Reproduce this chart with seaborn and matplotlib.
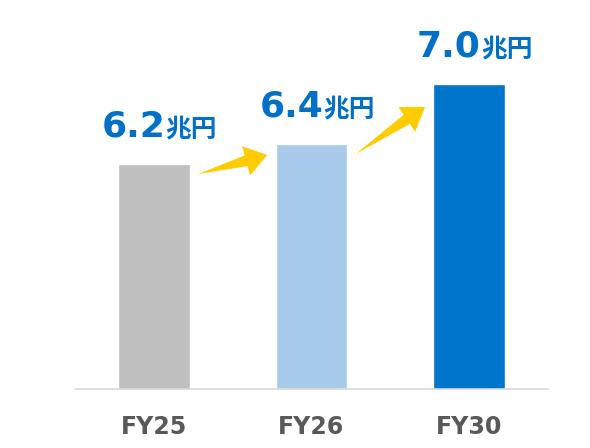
"""
Sales outlook bar chart - FY25 / FY26 / FY30
"""

import numpy as np
import pandas as pd
import matplotlib
matplotlib.use("Agg")
import matplotlib.pyplot as plt
from matplotlib.patches import Polygon
from matplotlib.offsetbox import TextArea, HPacker, AnnotationBbox
import seaborn as sns

# Data
years = ["FY25", "FY26", "FY30"]
sales = [6.2, 6.4, 7.0]
unit = "兆円"
bar_colors = ["#BFBFBF", "#A9CBEB", "#0075CC"]

LABEL_BLUE = "#0070C8"
ARROW_YELLOW = "#FFCC00"
TICK_GRAY = "#595959"


def add_arrow(ax, tail, tip):
    """Tapered yellow arrow, built in pixel space then mapped back to data"""
    p0 = ax.transData.transform(tail)
    p1 = ax.transData.transform(tip)
    d = p1 - p0
    length = np.hypot(*d)
    u = d / length
    n = np.array([-u[1], u[0]])
    head_len, head_w, shaft_w = 22, 15, 5.5
    base = p1 - u * head_len
    pts = [
        p0,
        base + n * shaft_w,
        base + n * head_w,
        p1,
        base - n * head_w,
        base - n * shaft_w,
    ]
    pts = ax.transData.inverted().transform(np.array(pts))
    ax.add_patch(Polygon(pts, closed=True, facecolor=ARROW_YELLOW,
                         edgecolor="none", zorder=3))


def main():
    sns.set_style("white")
    plt.rcParams["font.family"] = ["DejaVu Sans", "Noto Sans CJK JP"]

    df = pd.DataFrame({"year": years, "sales": sales})

    fig = plt.figure(figsize=(5.9, 4.48), dpi=100)
    ax = fig.add_axes([75 / 590, 59 / 448, 473 / 590, 369 / 448])

    sns.barplot(data=df, x="year", y="sales", hue="year", palette=bar_colors,
                width=0.456, legend=False, ax=ax, saturation=1)

    ax.set_xlim(-0.5, 2.5)
    ax.set_ylim(3.95, 7.64)

    sns.despine(ax=ax, left=True)
    ax.spines["bottom"].set_color("#D9D9D9")
    ax.spines["bottom"].set_linewidth(1.2)
    ax.set_yticks([])
    ax.set_xlabel("")
    ax.set_ylabel("")
    ax.tick_params(axis="x", length=0, pad=19, labelsize=17,
                   labelcolor=TICK_GRAY)
    for lbl in ax.get_xticklabels():
        lbl.set_fontweight("bold")

    # Value labels: big number + small unit
    for i, v in enumerate(sales):
        num = TextArea(f"{v:.1f}", textprops=dict(
            fontsize=26, fontweight="bold", color=LABEL_BLUE,
            family="DejaVu Sans"))
        unt = TextArea(unit, textprops=dict(
            fontsize=18.5, fontweight="bold", color=LABEL_BLUE,
            family="Noto Sans CJK JP"))
        pack = HPacker(children=[num, unt], align="baseline", pad=0, sep=0)
        ab = AnnotationBbox(pack, (i, v), xybox=(4, 15),
                            boxcoords="offset points", box_alignment=(0.5, 0),
                            frameon=False, pad=0)
        ax.add_artist(ab)

    # Growth arrows between bars
    tip_drop = [0.11, 0.23]
    for i in range(len(sales) - 1):
        tail = (i + 0.28, sales[i] - 0.1)
        tip = (i + 1 - 0.28, sales[i + 1] - tip_drop[i])
        add_arrow(ax, tail, tip)

    fig.savefig("out.png", dpi=100)
    plt.close(fig)


if __name__ == "__main__":
    main()
